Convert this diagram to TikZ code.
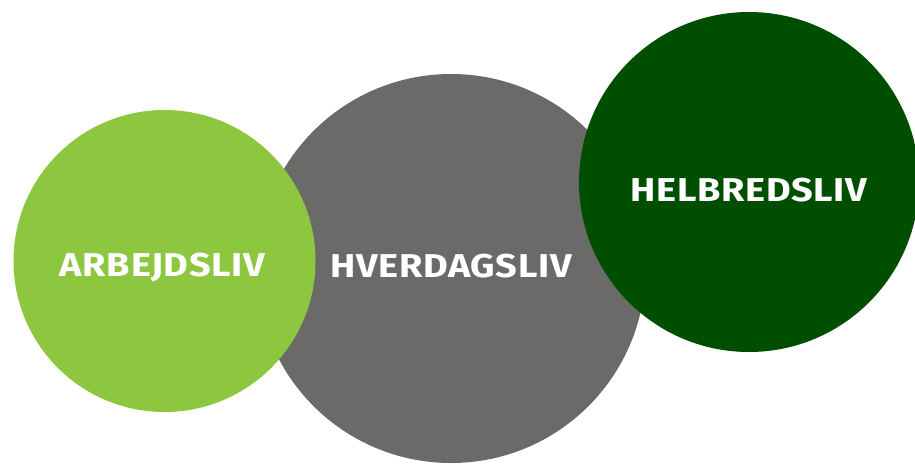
\documentclass[tikz,border=0pt]{standalone}
\usepackage{fontspec}
\newfontfamily\labelfont[FakeStretch=1.15,LetterSpace=2]{Fira Sans}
\definecolor{leafgreen}{HTML}{8DC63F}
\definecolor{stonegray}{HTML}{6A6B68}
\definecolor{forestgreen}{HTML}{004F00}
\begin{document}
\begin{tikzpicture}[x=1pt,y=-1pt,
  bubble/.style={circle,inner sep=0pt,text=white,
    font=\labelfont\bfseries\fontsize{33}{33}\selectfont},
  caption/.style={bubble,anchor=base}]
\useasboundingbox (0,0) rectangle (915,464);
% middle circle sits underneath the two outer ones
\node[bubble,fill=stonegray,minimum size=389pt] (hverdag) at (451,268.5) {};
\node[bubble,fill=leafgreen,minimum size=302pt] (arbejd) at (164.5,261) {};
\node[bubble,fill=forestgreen,minimum size=340pt] (helbred) at (749,182) {};
% labels, placed on their baselines
\node[caption] (larbejd) at (162.5,276) {ARBEJDSLIV};
\node[caption] (lhverdag) at (451,277) {HVERDAGSLIV};
\node[caption] (lhelbred) at (749,201) {HELBREDSLIV};
\end{tikzpicture}
\end{document}
